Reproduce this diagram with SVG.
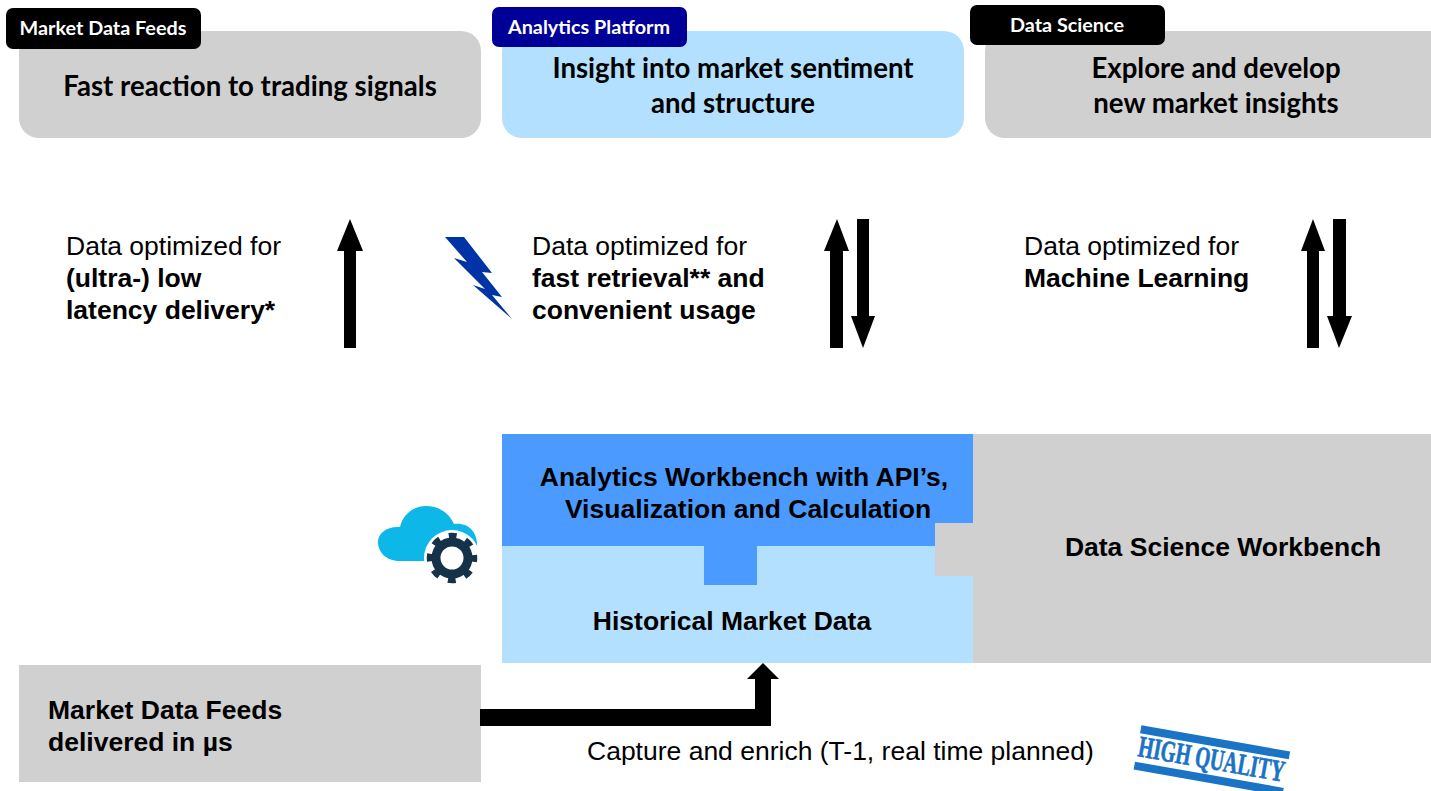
<svg xmlns="http://www.w3.org/2000/svg" width="1431" height="791" viewBox="0 0 1431 791">
<style>
.a{font-family:"Liberation Sans",Arial,sans-serif;font-size:26.5px;fill:#000}
.ab{font-family:"Liberation Sans",Arial,sans-serif;font-size:26.5px;font-weight:bold;fill:#000}
.c{font-family:Lato,"Open Sans",sans-serif;font-weight:bold;font-size:27.6px;fill:#000}
.t{font-family:Lato,"Open Sans",sans-serif;font-weight:bold;font-size:19.8px;fill:#fff}
.m{text-anchor:middle}
.g{fill:#d0d0d0}
.lb{fill:#b3e0ff}
.bl{fill:#4a9aff}
.k{fill:#000}
.s{fill:#1a73c4}
</style>
<rect width="1431" height="791" fill="#fff"/>
<g id="node-fast-reaction">
<rect class="g" x="19" y="31" width="462" height="107" rx="20"/>
<text class="c m" x="250" y="96">Fast reaction to trading signals</text>
</g>
<g id="tag-market-data-feeds">
<rect class="k" x="6" y="8" width="195" height="41" rx="7"/>
<text class="t m" x="103" y="35">Market Data Feeds</text>
</g>
<g id="node-insight">
<rect class="lb" x="502" y="31" width="462" height="107" rx="20"/>
<text class="c m" x="733" y="78">Insight into market sentiment</text>
<text class="c m" x="733" y="113">and structure</text>
</g>
<g id="tag-analytics-platform">
<rect x="492" y="7" width="195" height="40" rx="7" fill="#000099"/>
<text class="t m" x="589" y="34">Analytics Platform</text>
</g>
<g id="node-explore">
<path class="g" d="M1431 31H1005a20 20 0 0 0-20 20v67a20 20 0 0 0 20 20h426z"/>
<text class="c m" x="1216" y="78">Explore and develop</text>
<text class="c m" x="1216" y="113">new market insights</text>
</g>
<g id="tag-data-science">
<rect class="k" x="970" y="5" width="195" height="40" rx="7"/>
<text class="t m" x="1067" y="32">Data Science</text>
</g>
<g id="label-low-latency">
<text class="a" x="66" y="255">Data optimized for</text>
<text class="ab" x="66" y="287">(ultra-) low</text>
<text class="ab" x="66" y="319">latency delivery*</text>
</g>
<g id="label-fast-retrieval">
<text class="a" x="532" y="255">Data optimized for</text>
<text class="ab" x="532" y="287">fast retrieval** and</text>
<text class="ab" x="532" y="319">convenient usage</text>
</g>
<g id="label-ml">
<text class="a" x="1024" y="255">Data optimized for</text>
<text class="ab" x="1024" y="287">Machine Learning</text>
</g>
<g id="icon-lightning">
<path d="M445 237H464L492 273L482 272L502 297L492 295L512 319L473 285L485 289L454 258L467 262Z" fill="#0033a6"/>
</g>
<g id="node-data-science-workbench">
<path class="g" d="M973 434H1431V663H973V576H935V523H973Z"/>
<text class="ab m" x="1223" y="556">Data Science Workbench</text>
</g>
<g id="node-historical">
<path class="lb" d="M502 546H935V576H973V663H502Z"/>
<text class="ab m" x="732" y="630">Historical Market Data</text>
</g>
<g id="node-analytics-workbench">
<path class="bl" d="M502 434H973V523H935V546H757V585H704V546H502Z"/>
<text class="ab m" x="744" y="486">Analytics Workbench with API’s,</text>
<text class="ab m" x="748" y="518">Visualization and Calculation</text>
</g>
<g id="icon-cloud">
<path d="M400 561C385 561 378 551 378 542C378 533 387 526 400 527C403 514 414 506 426 506C439 506 449 513 454 524C468 522 477 532 477 544V561Z" fill="#0db7e8"/>
<circle cx="452" cy="558" r="28" fill="#fff"/>
<circle cx="452" cy="558" r="16" fill="none" stroke="#15324a" stroke-width="9"/>
<circle cx="452" cy="558" r="22.5" fill="none" stroke="#15324a" stroke-width="5.5" stroke-dasharray="8 9.67" stroke-dashoffset="4"/>
</g>
<g id="node-market-feeds">
<rect class="g" x="19" y="665" width="462" height="117"/>
<text class="ab" x="48" y="719">Market Data Feeds</text>
<text class="ab" x="48" y="751">delivered in µs</text>
</g>
<g id="connectors">
<path class="k" d="M344 348V251H337L350 219L363 251H356V348Z"/>
<path class="k" d="M830 348V251H824L837 219L849 251H843V348Z"/>
<path class="k" d="M857 219H869V316H875L863 348L851 316H857Z"/>
<path class="k" d="M1307 348V251H1301L1313 219L1325 251H1319V348Z"/>
<path class="k" d="M1333 219H1346V316H1352L1339 348L1327 316H1333Z"/>
<path class="k" d="M480 709H755V679H747L763 663L779 679H771V726H480Z"/>
</g>
<g id="label-capture">
<text class="a" x="587" y="760">Capture and enrich (T-1, real time planned)</text>
</g>
<g id="icon-high-quality" transform="rotate(10 1212 757)">
<rect class="s" x="1137" y="738" width="151" height="8"/>
<rect class="s" x="1137" y="775" width="151" height="8"/>
<text class="s" x="1212" y="769" text-anchor="middle" font-family="Liberation Serif,serif" font-weight="bold" font-size="30" stroke="#1a73c4" stroke-width="0.7" textLength="148" lengthAdjust="spacingAndGlyphs">HIGH QUALITY</text>
</g>
</svg>
